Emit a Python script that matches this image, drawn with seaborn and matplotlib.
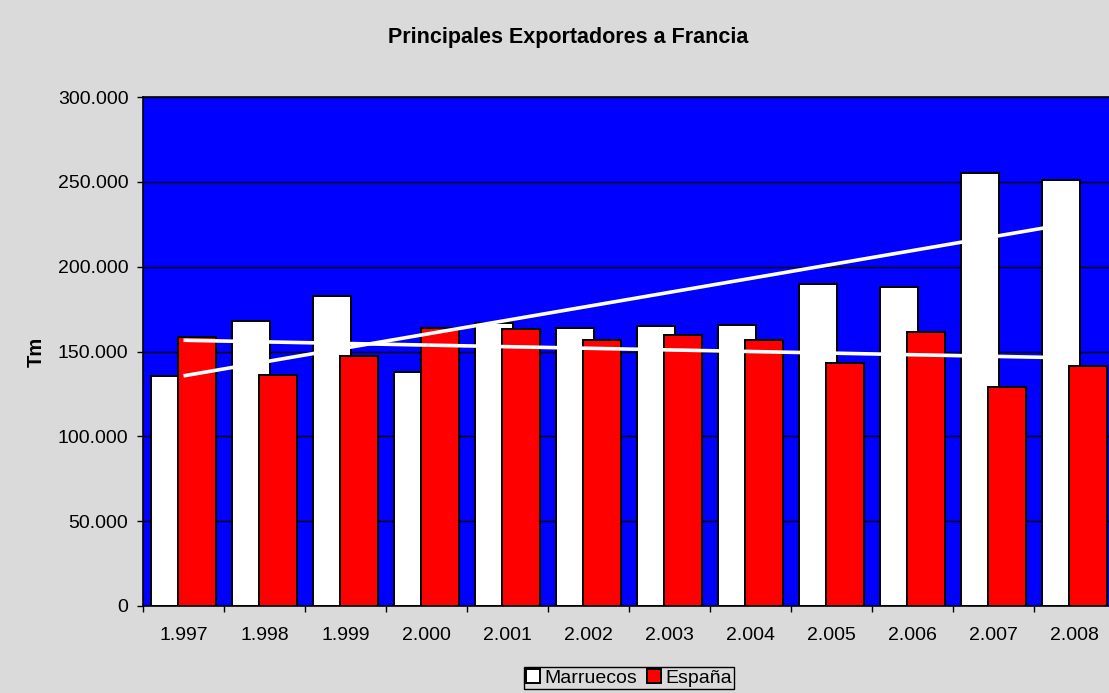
import numpy as np
import pandas as pd
import matplotlib.pyplot as plt
import seaborn as sns

anios = [1997, 1998, 1999, 2000, 2001, 2002, 2003, 2004, 2005, 2006, 2007, 2008]
etiquetas = ["1.997", "1.998", "1.999", "2.000", "2.001", "2.002",
             "2.003", "2.004", "2.005", "2.006", "2.007", "2.008"]
marruecos = [135500, 168000, 182700, 137900, 167000, 163800,
             165000, 165600, 189700, 188000, 255000, 251000]
espana = [158500, 136000, 147300, 163800, 163200, 156700,
          159700, 156700, 143200, 161500, 129000, 141400]

sns.set_style("ticks")
plt.rcParams["font.family"] = ["Liberation Sans", "DejaVu Sans"]
plt.rcParams["text.color"] = "black"
plt.rcParams["xtick.color"] = "black"
plt.rcParams["ytick.color"] = "black"
plt.rcParams["axes.labelcolor"] = "black"

fig = plt.figure(figsize=(11.09, 6.93), dpi=100, facecolor="#dadada")
ax = fig.add_axes([143 / 1109, 87 / 693, (1115 - 143) / 1109, 509 / 693])
ax.set_facecolor("#0000ff")

df_m = pd.DataFrame({"x": np.array(anios) - 0.167, "Tm": marruecos})
df_e = pd.DataFrame({"x": np.array(anios) + 0.167, "Tm": espana})

sns.barplot(data=df_m, x="x", y="Tm", native_scale=True, width=0.47,
            color="white", edgecolor="black", linewidth=1.4, saturation=1,
            errorbar=None, ax=ax, zorder=2, label="Marruecos")
sns.barplot(data=df_e, x="x", y="Tm", native_scale=True, width=0.47,
            color="#ff0000", edgecolor="black", linewidth=1.4, saturation=1,
            errorbar=None, ax=ax, zorder=2, label="España")
h, l = ax.get_legend_handles_labels()
if ax.get_legend() is not None:
    ax.get_legend().remove()

# líneas de tendencia (lineal, como en Excel)
idx = np.arange(len(anios))
for serie in (marruecos, espana):
    m, b = np.polyfit(idx, serie, 1)
    ax.plot([anios[0], anios[-1]], [b, m * idx[-1] + b], color="white", lw=2.6,
            zorder=3, solid_capstyle="butt")

ax.set_xlim(anios[0] - 0.5, anios[-1] + 0.5)
ax.set_ylim(0, 300000)
ax.set_yticks(np.arange(0, 300001, 50000))
ax.set_yticklabels([f"{v:,.0f}".replace(",", ".") for v in range(0, 300001, 50000)])
ax.set_xticks(anios)
ax.set_xticklabels(etiquetas)
ax.set_xticks(np.arange(anios[0] - 0.5, anios[-1] + 1), minor=True)
ax.tick_params(axis="x", which="major", length=0, pad=15, labelsize=14)
ax.tick_params(axis="x", which="minor", length=4.5, width=1, color="black", direction="out")
ax.tick_params(axis="y", length=4.5, width=1, color="black", direction="out", pad=6, labelsize=14)

ax.grid(axis="y", color="black", lw=1, zorder=0)
ax.set_axisbelow(True)
for lado in ("left", "bottom", "top"):
    ax.spines[lado].set_color("black")
    ax.spines[lado].set_linewidth(1.2)
ax.spines["right"].set_visible(False)

ax.set_xlabel("")
ax.set_ylabel("Tm", fontsize=14.5, fontweight="bold", labelpad=9)

fig.text(568 / 1109, 1 - 37 / 693, "Principales Exportadores a Francia",
         ha="center", va="center", fontsize=15.5, fontweight="bold")

leg = fig.legend(h, l, loc="center", bbox_to_anchor=(629 / 1109, 15 / 693), ncol=2,
                 frameon=True, fancybox=False, edgecolor="black", facecolor="#dadada",
                 fontsize=14, handlelength=0.7, handleheight=0.7, handletextpad=0.25,
                 columnspacing=0.5, borderpad=0.12, borderaxespad=0, framealpha=1)
leg.get_frame().set_linewidth(1)

fig.savefig("out.png", dpi=100, facecolor=fig.get_facecolor())
